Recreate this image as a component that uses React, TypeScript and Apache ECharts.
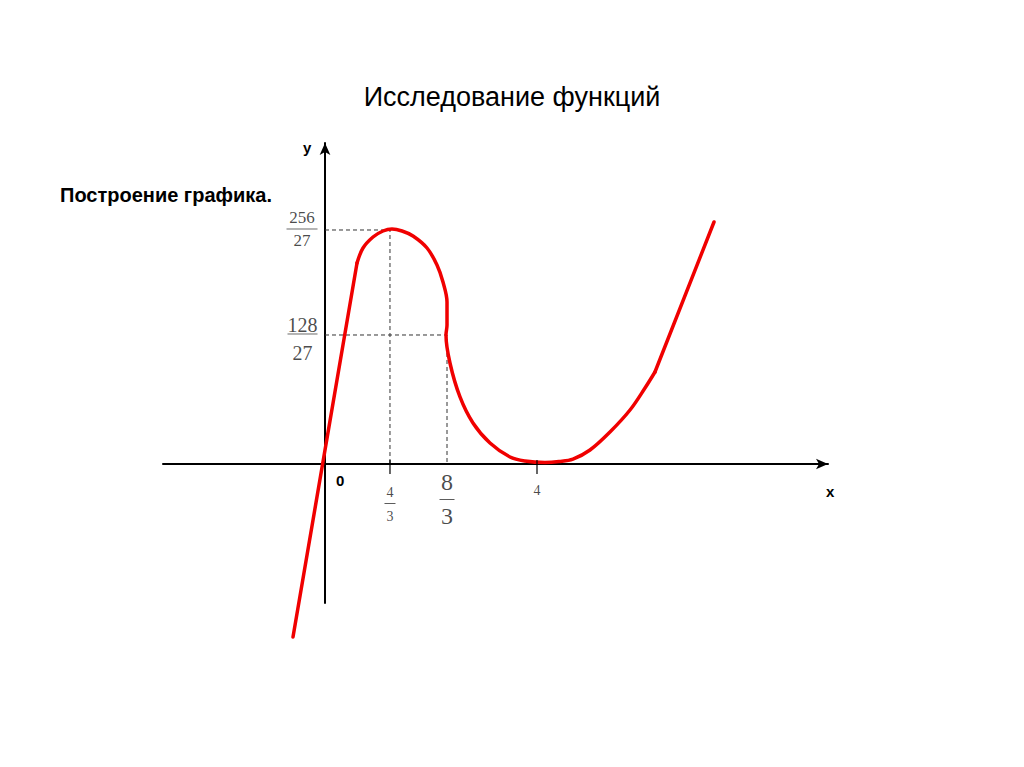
import React, { useEffect, useRef } from 'react';
import * as echarts from 'echarts';

// Curve (x in units where the "4" tick = 4, y in units where 256/27 level ≈ 9.47)
const riseX = [-0.604, 0.604];
const riseY = [-7.004, 8.138];

const humpX = [0.604, 0.717, 0.906, 1.094, 1.264, 1.453, 1.66, 1.925, 2.113, 2.226, 2.302, 2.302, 2.283, 2.358, 2.547, 2.792, 3.113, 3.491, 3.774, 4.151, 4.415, 4.679, 5.0, 5.377, 5.755, 6.038, 6.226];
const humpY = [8.138, 8.745, 9.19, 9.433, 9.514, 9.433, 9.231, 8.745, 8.057, 7.368, 6.559, 5.628, 5.223, 4.089, 2.713, 1.66, 0.85, 0.283, 0.12, 0.06, 0.1, 0.2, 0.567, 1.296, 2.186, 3.077, 3.725];

const tailX = [6.226, 7.34];
const tailY = [3.725, 9.798];

// Tick positions as drawn
const xTickValues = [1.226, 4.0];
const xLabelValues = [1.226, 2.302, 4.0];
const xLabelTexts = ['{sp| }\n{sn|4}\n{sb| }\n{sd|3}', '{bn|8}\n{bb| }\n{bd|3}', '{sp4| }\n{sn|4}'];
const yLabelValues = [9.474, 5.223];
const yLabelTexts = ['{an|256}\n{ab| }\n{ad|27}', '{sp| }\n{cn|128}\n{cb| }\n{cd|27}'];

// Guide lines (dashed)
const guide1X = [0, 1.226, 1.226];
const guide1Y = [9.474, 9.474, 0];
const guide2X = [0, 2.302, 2.302];
const guide2Y = [5.223, 5.223, 0];

const zip = (xs: number[], ys: number[]) => xs.map((x, i) => [x, ys[i]]);

const serif = '"Liberation Serif", "Times New Roman", serif';
const sans = '"Liberation Sans", Arial, sans-serif';

export default function App() {
  const ref = useRef<HTMLDivElement>(null);
  useEffect(() => {
    if (!ref.current) return;
    const chart = echarts.init(ref.current, undefined, { renderer: 'svg' });
    const red = '#f00000';
    const ink = '#1a1a1a';
    chart.setOption({
      animation: false,
      backgroundColor: '#ffffff',
      title: {
        text: 'Исследование функций',
        left: 'center',
        top: 78,
        textStyle: { fontFamily: sans, fontSize: 27, fontWeight: 'normal', color: '#000' },
      },
      grid: { left: 163, right: 196, top: 143, bottom: 164 },
      xAxis: {
        type: 'value',
        min: -3.057,
        max: 9.491,
        splitLine: { show: false },
        axisTick: { show: false },
        axisLabel: { show: false },
        axisLine: {
          onZero: true,
          lineStyle: { color: '#000', width: 2 },
          symbol: ['none', 'arrow'],
          symbolSize: [8, 12],
        },
      },
      yAxis: {
        type: 'value',
        min: -5.628,
        max: 12.996,
        splitLine: { show: false },
        axisTick: { show: false },
        axisLabel: { show: false },
        axisLine: {
          onZero: true,
          lineStyle: { color: '#000', width: 2 },
          symbol: ['none', 'arrow'],
          symbolSize: [8, 12],
        },
      },
      graphic: [
        { type: 'text', left: 60, top: 185, style: { text: 'Построение графика.', font: `bold 20px ${sans}`, fill: '#000' } },
        { type: 'text', left: 303, top: 140, style: { text: 'y', font: `bold 15px ${sans}`, fill: '#000' } },
        { type: 'text', left: 826, top: 484, style: { text: 'x', font: `bold 15px ${sans}`, fill: '#000' } },
        { type: 'text', left: 336, top: 473, style: { text: '0', font: `bold 15px ${sans}`, fill: '#000' } },
      ],
      series: [
        {
          type: 'line', data: zip(guide1X, guide1Y), showSymbol: false, silent: true,
          lineStyle: { color: '#333', width: 1, type: [4, 3] }, z: 1,
        },
        {
          type: 'line', data: zip(guide2X, guide2Y), showSymbol: false, silent: true,
          lineStyle: { color: '#333', width: 1, type: [4, 3] }, z: 1,
        },
        {
          type: 'line', data: zip(riseX, riseY), showSymbol: false, clip: false,
          lineStyle: { color: red, width: 3.5, cap: 'round' }, z: 3,
        },
        {
          type: 'line', data: zip(humpX, humpY), showSymbol: false, clip: false, smooth: 0.35,
          lineStyle: { color: red, width: 3.5, cap: 'round' }, z: 3,
        },
        {
          type: 'line', data: zip(tailX, tailY), showSymbol: false, clip: false,
          lineStyle: { color: red, width: 3.5, cap: 'round' }, z: 3,
        },
        {
          type: 'scatter', data: xTickValues.map((x) => [x, 0]), symbol: 'rect',
          symbolSize: [1.5, 14], symbolOffset: [0, 3], itemStyle: { color: '#000' }, z: 5, silent: true,
        },
        {
          type: 'scatter', data: xLabelValues.map((x) => [x, 0]), symbol: 'circle', symbolSize: 1,
          itemStyle: { color: 'rgba(0,0,0,0)' }, silent: true, z: 6, clip: false,
          label: {
            show: true,
            position: 'bottom',
            distance: 6,
            color: ink,
            formatter: (p: any) => xLabelTexts[p.dataIndex],
            rich: {
              sp: { lineHeight: 14, fontSize: 1 },
              sp4: { lineHeight: 12, fontSize: 1 },
              sn: { fontFamily: serif, fontSize: 14, lineHeight: 16, color: ink, align: 'center' },
              sb: { width: 11, height: 1, lineHeight: 6, backgroundColor: '#333', align: 'center' },
              sd: { fontFamily: serif, fontSize: 14, lineHeight: 20, color: ink, align: 'center' },
              bn: { fontFamily: serif, fontSize: 24, lineHeight: 24, color: ink, align: 'center' },
              bb: { width: 15, height: 1, lineHeight: 10, backgroundColor: '#333', align: 'center' },
              bd: { fontFamily: serif, fontSize: 24, lineHeight: 24, color: ink, align: 'center' },
            },
          },
        },
        {
          type: 'scatter', data: yLabelValues.map((y) => [0, y]), symbol: 'circle', symbolSize: 1,
          itemStyle: { color: 'rgba(0,0,0,0)' }, silent: true, z: 6, clip: false,
          label: {
            show: true,
            position: 'left',
            distance: 7,
            color: ink,
            formatter: (p: any) => yLabelTexts[p.dataIndex],
            rich: {
              an: { fontFamily: serif, fontSize: 17, lineHeight: 20, color: ink, align: 'center' },
              ab: { width: 31, height: 1, lineHeight: 2, backgroundColor: '#444', align: 'center' },
              ad: { fontFamily: serif, fontSize: 17, lineHeight: 22, color: ink, align: 'center' },
              sp: { lineHeight: 18, fontSize: 1 },
              cn: { fontFamily: serif, fontSize: 20, lineHeight: 16, color: ink, align: 'center' },
              cb: { width: 30, height: 1, lineHeight: 2, backgroundColor: '#444', align: 'center' },
              cd: { fontFamily: serif, fontSize: 20, lineHeight: 36, color: ink, align: 'center' },
            },
          },
        },
      ],
    });
    return () => chart.dispose();
  }, []);
  return (
    <div
      ref={ref}
      style={{ position: 'fixed', left: 0, top: 0, width: 1024, height: 767, background: '#fff' }}
    />
  );
}
